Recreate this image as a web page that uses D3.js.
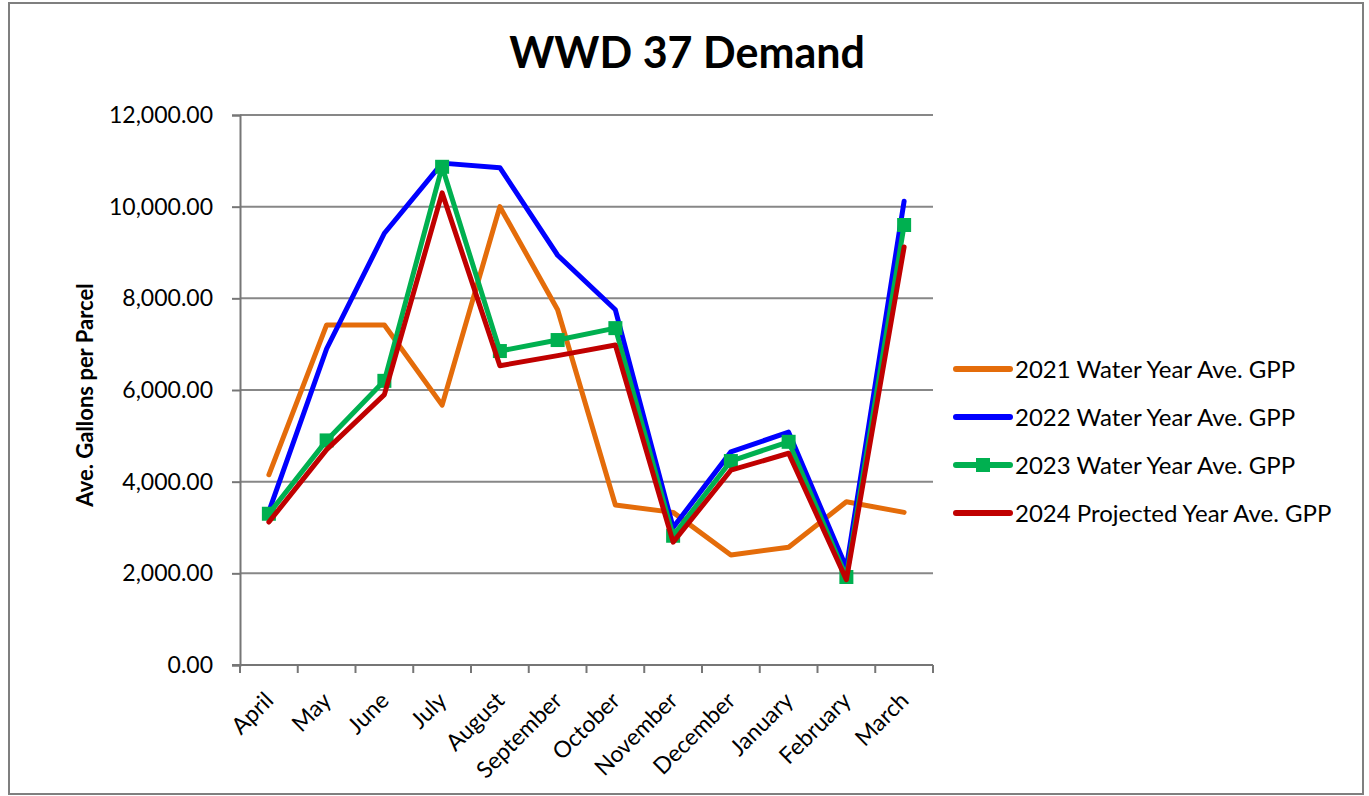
<!DOCTYPE html>
<html><head><meta charset="utf-8">
<script src="https://cdn.jsdelivr.net/npm/d3@7"></script>
<style>
body{margin:0;background:#fff;}
svg{display:block;font-family:Lato,"Open Sans",sans-serif;}
</style>
</head><body>
<svg id="chart" width="1369" height="796"></svg>
<script>
// ---- data ----
const months = ["April","May","June","July","August","September","October","November","December","January","February","March"];
const wy2021 = [4150, 7420, 7420, 5670, 10000, 7750, 3490, 3330, 2400, 2570, 3560, 3330];
const wy2022 = [3350, 6900, 9420, 10950, 10850, 8940, 7750, 3000, 4650, 5080, 2120, 10120];
const wy2023 = [3300, 4900, 6200, 10870, 6850, 7090, 7350, 2820, 4450, 4870, 1920, 9600];
const wy2024 = [3120, 4700, 5900, 10300, 6530, 6750, 6980, 2680, 4250, 4620, 1860, 9120];
const seriesNames = ["2021 Water Year Ave. GPP","2022 Water Year Ave. GPP","2023 Water Year Ave. GPP","2024 Projected Year Ave. GPP"];
const seriesColors = ["#E46C0A","#0000FF","#00B050","#C00000"];
const yTicks = [0, 2000, 4000, 6000, 8000, 10000, 12000];
const titleText = "WWD 37 Demand";
const yTitle = "Ave. Gallons per Parcel";

const seriesData = [wy2021, wy2022, wy2023, wy2024];

const svg = d3.select("#chart");
const L = 240, R = 933, T = 115, B = 665;

// outer border
svg.append("rect").attr("x", 9).attr("y", 3).attr("width", 1354).attr("height", 791)
  .attr("fill", "#fff").attr("stroke", "#7f7f7f").attr("stroke-width", 2);

const x = d3.scaleBand().domain(months).range([L, R]).padding(0);
const cx = m => x(m) + x.bandwidth() / 2;
const y = d3.scaleLinear().domain([0, 12000]).range([B, T]);

// gridlines
svg.append("g").selectAll("line").data(yTicks.filter(t => t > 0)).join("line")
  .attr("x1", L).attr("x2", R).attr("y1", d => y(d)).attr("y2", d => y(d))
  .attr("stroke", "#878787").attr("stroke-width", 2);

// y axis
const yAxis = svg.append("g").attr("transform", `translate(${L},0)`)
  .call(d3.axisLeft(y).tickValues(yTicks).tickFormat(d3.format(",.2f")).tickSize(8).tickPadding(19));
yAxis.select(".domain").attr("stroke", "#767676").attr("stroke-width", 2);
yAxis.selectAll(".tick line").attr("stroke", "#767676").attr("stroke-width", 2);
yAxis.selectAll(".tick text").attr("font-size", 23).attr("fill", "#000")
  .attr("font-family", "Lato, 'Open Sans', sans-serif");

// x axis
const xg = svg.append("g");
xg.append("line").attr("x1", L - 8).attr("x2", R).attr("y1", B).attr("y2", B)
  .attr("stroke", "#767676").attr("stroke-width", 2);
const edges = months.map(m => x(m)).concat([x(months[months.length - 1]) + x.bandwidth()]);
xg.selectAll("line.tk").data(edges).join("line").attr("class", "tk")
  .attr("x1", d => d).attr("x2", d => d).attr("y1", B).attr("y2", B + 8)
  .attr("stroke", "#767676").attr("stroke-width", 2);
xg.selectAll("text").data(months).join("text")
  .attr("transform", d => `translate(${cx(d) + 6},${B + 37}) rotate(-45)`)
  .attr("text-anchor", "end").attr("font-size", 23).attr("fill", "#000")
  .text(d => d);

// lines
const line = d3.line().x((d, i) => cx(months[i])).y(d => y(d));
seriesData.forEach((s, k) => {
  svg.append("path").datum(s).attr("d", line).attr("fill", "none")
    .attr("stroke", seriesColors[k]).attr("stroke-width", 5)
    .attr("stroke-linejoin", "round").attr("stroke-linecap", "round");
  if (k === 2) {
    svg.append("g").selectAll("rect").data(s).join("rect")
      .attr("x", (d, i) => cx(months[i]) - 7).attr("y", d => y(d) - 7)
      .attr("width", 14).attr("height", 14).attr("fill", seriesColors[k]);
  }
});

// title
svg.append("text").attr("x", 687).attr("y", 68).attr("text-anchor", "middle")
  .attr("font-size", 43).attr("font-weight", "bold").attr("fill", "#000").text(titleText);

// y title
svg.append("text").attr("transform", "translate(93,395) rotate(-90)")
  .attr("text-anchor", "middle").attr("font-size", 22).attr("font-weight", "bold")
  .attr("fill", "#000").text(yTitle);

// legend
const lg = svg.append("g");
const legY = [369, 417, 465, 513];
seriesNames.forEach((n, k) => {
  lg.append("line").attr("x1", 956).attr("x2", 1010).attr("y1", legY[k]).attr("y2", legY[k])
    .attr("stroke", seriesColors[k]).attr("stroke-width", 6).attr("stroke-linecap", "round");
  if (k === 2) {
    lg.append("rect").attr("x", 983 - 7).attr("y", legY[k] - 7).attr("width", 14).attr("height", 14)
      .attr("fill", seriesColors[k]);
  }
  lg.append("text").attr("x", 1015).attr("y", legY[k]).attr("dy", "0.36em")
    .attr("font-size", 24).attr("fill", "#000").text(n);
});
</script>
</body></html>
